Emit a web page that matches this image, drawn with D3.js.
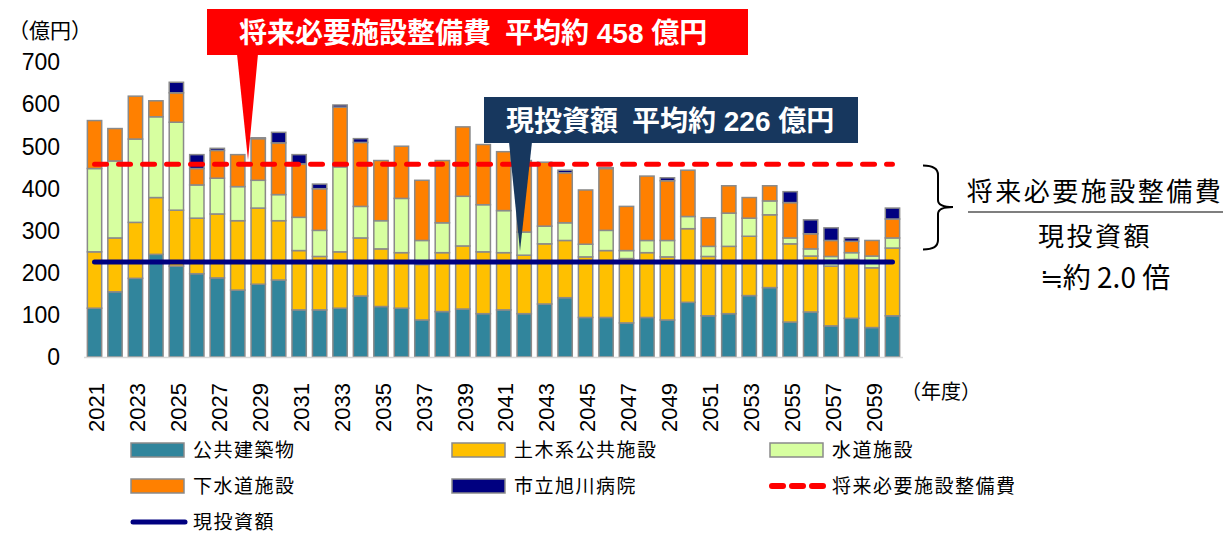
<!DOCTYPE html>
<html>
<head>
<meta charset="utf-8">
<script src="https://cdn.jsdelivr.net/npm/d3@7"></script>
<style>
  body { margin: 0; background: #fff; }
  svg { display: block; font-family: "Liberation Sans", "Noto Sans CJK JP", sans-serif; }
</style>
</head>
<body>
<svg id="chart" width="1224" height="533"></svg>
<script>
// 年度
var years = [2021, 2022, 2023, 2024, 2025, 2026, 2027, 2028, 2029, 2030,
             2031, 2032, 2033, 2034, 2035, 2036, 2037, 2038, 2039, 2040,
             2041, 2042, 2043, 2044, 2045, 2046, 2047, 2048, 2049, 2050,
             2051, 2052, 2053, 2054, 2055, 2056, 2057, 2058, 2059, 2060];
var yearLabels = [2021, 2023, 2025, 2027, 2029, 2031, 2033, 2035, 2037, 2039,
                  2041, 2043, 2045, 2047, 2049, 2051, 2053, 2055, 2057, 2059];
var yTicks = [0, 100, 200, 300, 400, 500, 600, 700];

// 億円
var koukyouKenchiku = [116, 155, 187, 244, 216, 198, 188, 159, 173, 183,
                       112, 112, 116, 145, 120, 116, 88, 108, 114, 103,
                       112, 103, 126, 141, 94, 94, 81, 94, 88, 130,
                       98, 103, 146, 165, 83, 107, 74, 92, 70, 98];
var dobokuKei = [134, 128, 133, 135, 133, 132, 152, 165, 181, 141,
                 141, 127, 134, 138, 137, 132, 132, 140, 150, 147,
                 136, 139, 143, 136, 144, 159, 153, 154, 150, 175,
                 141, 160, 141, 173, 186, 133, 142, 140, 142, 161];
var suidou = [198, 183, 198, 192, 209, 79, 85, 81, 66, 62,
              79, 62, 202, 75, 67, 129, 57, 71, 118, 112,
              100, 55, 42, 42, 30, 48, 19, 29, 39, 29,
              24, 79, 43, 33, 14, 17, 23, 16, 28, 24];
var gesuidou = [114, 77, 102, 38, 70, 39, 66, 76, 99, 123,
                127, 99, 142, 152, 143, 124, 143, 148, 165, 143,
                140, 170, 152, 119, 129, 147, 105, 153, 142, 110,
                68, 65, 49, 36, 84, 36, 38, 27, 37, 45];
var byouin = [0, 0, 0, 0, 25, 33, 5, 0, 2, 25,
              22, 11, 5, 9, 0, 0, 0, 0, 0, 0,
              0, 0, 0, 6, 0, 2, 0, 0, 7, 0,
              0, 0, 0, 0, 26, 33, 30, 8, 0, 26];

var futureAvg = 458;
var currentAvg = 226;

var seriesNames = ["公共建築物", "土木系公共施設", "水道施設", "下水道施設", "市立旭川病院"];
var seriesColors = ["#31859c", "#ffc000", "#d7ffa0", "#ff8000", "#000080"];

var rows = years.map(function (yr, i) {
    return {
        year: yr,
        "公共建築物": koukyouKenchiku[i],
        "土木系公共施設": dobokuKei[i],
        "水道施設": suidou[i],
        "下水道施設": gesuidou[i],
        "市立旭川病院": byouin[i]
    };
});

var svg = d3.select("#chart");

var x = d3.scaleBand().domain(years).range([84.3, 902.7]).paddingInner(0.3).paddingOuter(0.15);
var y = d3.scaleLinear().domain([0, 700]).range([357, 62.5]);
var bw = x.bandwidth();

// stacked bars
var stacked = d3.stack().keys(seriesNames)(rows);
var color = d3.scaleOrdinal().domain(seriesNames).range(seriesColors);

svg.append("g").selectAll("g")
    .data(stacked)
    .join("g")
    .attr("fill", function (d) { return color(d.key); })
    .selectAll("rect")
    .data(function (d) { return d.filter(function (p) { return p[1] - p[0] > 0; }); })
    .join("rect")
    .attr("x", function (d) { return x(d.data.year); })
    .attr("y", function (d) { return y(d[1]); })
    .attr("width", bw)
    .attr("height", function (d) { return y(d[0]) - y(d[1]); })
    .attr("stroke", "#8a8a8a")
    .attr("stroke-width", 1.5);

// baseline
svg.append("line")
    .attr("x1", 84).attr("x2", 903)
    .attr("y1", y(0) + 0.5).attr("y2", y(0) + 0.5)
    .attr("stroke", "#d9d9d9").attr("stroke-width", 1.5);

// y axis
var yAxis = svg.append("g")
    .attr("transform", "translate(62,0)")
    .call(d3.axisLeft(y).tickValues(yTicks).tickSize(0).tickPadding(2));
yAxis.select(".domain").remove();
yAxis.selectAll("text")
    .attr("font-size", 23)
    .attr("font-family", "Liberation Sans, sans-serif")
    .attr("fill", "#000");

// x axis
var xAxis = svg.append("g")
    .attr("transform", "translate(0," + y(0) + ")")
    .call(d3.axisBottom(x).tickValues(yearLabels).tickSize(0));
xAxis.select(".domain").remove();
xAxis.selectAll("text")
    .attr("transform", "rotate(-90)")
    .attr("x", -26)
    .attr("y", 2)
    .attr("dy", "0.35em")
    .attr("text-anchor", "end")
    .attr("font-size", 22)
    .attr("font-family", "Liberation Sans, sans-serif")
    .attr("fill", "#000");

// average lines
var ends = [years[0], years[years.length - 1]];
var avgLine = function (v) {
    return d3.line().x(function (d) { return x(d) + bw / 2; }).y(function () { return y(v); })(ends);
};
svg.append("path")
    .attr("d", avgLine(futureAvg))
    .attr("fill", "none")
    .attr("stroke", "#ff0000")
    .attr("stroke-width", 5)
    .attr("stroke-linecap", "round")
    .attr("stroke-dasharray", "12,12");
svg.append("path")
    .attr("d", avgLine(currentAvg))
    .attr("fill", "none")
    .attr("stroke", "#000080")
    .attr("stroke-width", 5)
    .attr("stroke-linecap", "round");

// unit labels
svg.append("text").attr("x", 8).attr("y", 31).attr("dy", "0.35em")
    .attr("font-size", 21).text("（億円）");
svg.append("text").attr("x", 901).attr("y", 392).attr("dy", "0.35em")
    .attr("font-size", 20).text("（年度）");

// callouts
svg.append("polygon").attr("points", "237,54 258,54 248,160").attr("fill", "#ff0000");
svg.append("rect").attr("x", 207).attr("y", 9).attr("width", 541).attr("height", 46).attr("fill", "#ff0000");
svg.append("text").attr("x", 239).attr("y", 33).attr("dy", "0.35em")
    .attr("font-size", 28).attr("font-weight", "bold").attr("fill", "#fff")
    .text("将来必要施設整備費\u2002平均約 " + futureAvg + " 億円");

svg.append("polygon").attr("points", "509,142 532,142 520,251").attr("fill", "#17375e");
svg.append("rect").attr("x", 484).attr("y", 97).attr("width", 374).attr("height", 46).attr("fill", "#17375e");
svg.append("text").attr("x", 506).attr("y", 121).attr("dy", "0.35em")
    .attr("font-size", 28).attr("font-weight", "bold").attr("fill", "#fff")
    .text("現投資額\u2002平均約 " + currentAvg + " 億円");

// ratio note on the right
svg.append("path")
    .attr("d", "M923,165.5 Q938,165.5 938,175 L938,200 Q938,207 953,207 Q938,207 938,214 L938,240 Q938,249.5 923,249.5")
    .attr("fill", "none").attr("stroke", "#000").attr("stroke-width", 2);
var note = svg.append("g").attr("text-anchor", "middle").attr("font-size", 26).attr("fill", "#000");
note.append("text").attr("x", 1095).attr("y", 192).attr("dy", "0.35em")
    .attr("letter-spacing", 2.5).text("将来必要施設整備費");
note.append("line").attr("x1", 968).attr("x2", 1223).attr("y1", 212).attr("y2", 212)
    .attr("stroke", "#000").attr("stroke-width", 1.2);
note.append("text").attr("x", 1095).attr("y", 237).attr("dy", "0.35em")
    .attr("letter-spacing", 2.5).text("現投資額");
note.append("text").attr("x", 1105).attr("y", 278).attr("dy", "0.35em")
    .attr("font-size", 28)
    .attr("font-family", "Noto Sans CJK JP, sans-serif")
    .text("≒約 2.0 倍");

// legend
var legendItems = [
    { name: "公共建築物", type: "box", color: seriesColors[0], col: 0, row: 0 },
    { name: "土木系公共施設", type: "box", color: seriesColors[1], col: 1, row: 0 },
    { name: "水道施設", type: "box", color: seriesColors[2], col: 2, row: 0 },
    { name: "下水道施設", type: "box", color: seriesColors[3], col: 0, row: 1 },
    { name: "市立旭川病院", type: "box", color: seriesColors[4], col: 1, row: 1 },
    { name: "将来必要施設整備費", type: "dash", color: "#ff0000", col: 2, row: 1 },
    { name: "現投資額", type: "line", color: "#000080", col: 0, row: 2 }
];
var colX = [131, 452, 770];
var rowY = [450, 486, 522];

var legend = svg.append("g").selectAll("g")
    .data(legendItems)
    .join("g")
    .attr("transform", function (d) { return "translate(" + colX[d.col] + "," + rowY[d.row] + ")"; });

legend.filter(function (d) { return d.type === "box"; })
    .append("rect")
    .attr("x", 0).attr("y", -7).attr("width", 53).attr("height", 14)
    .attr("fill", function (d) { return d.color; })
    .attr("stroke", "#8a8a8a").attr("stroke-width", 1.5);
legend.filter(function (d) { return d.type === "dash"; })
    .append("line")
    .attr("x1", 2).attr("x2", 53).attr("y1", 0).attr("y2", 0)
    .attr("stroke", function (d) { return d.color; })
    .attr("stroke-width", 6).attr("stroke-linecap", "round")
    .attr("stroke-dasharray", "11,9");
legend.filter(function (d) { return d.type === "line"; })
    .append("line")
    .attr("x1", 2).attr("x2", 54).attr("y1", 0).attr("y2", 0)
    .attr("stroke", function (d) { return d.color; })
    .attr("stroke-width", 5).attr("stroke-linecap", "round");
legend.append("text")
    .attr("x", 62).attr("y", 0).attr("dy", "0.35em")
    .attr("font-size", 19).attr("letter-spacing", 1.5)
    .text(function (d) { return d.name; });
</script>
</body>
</html>
